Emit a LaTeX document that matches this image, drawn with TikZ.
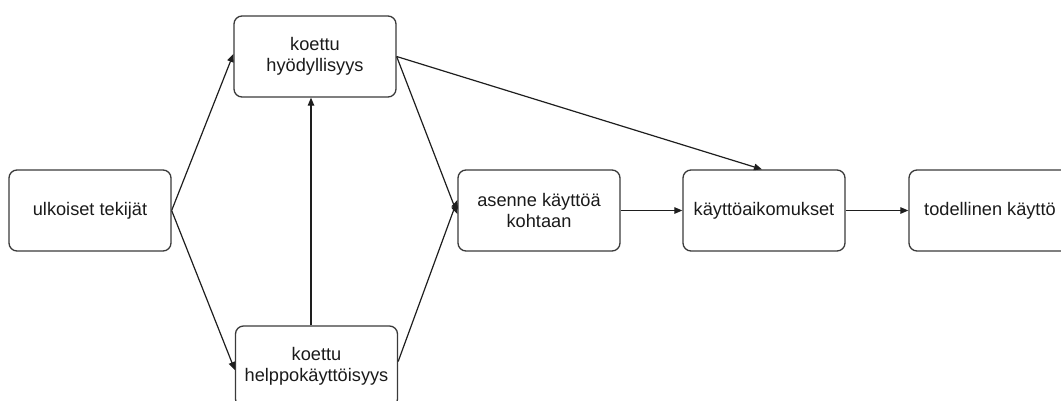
\documentclass[tikz,border=0pt]{standalone}
\usepackage{fontspec}
\setmainfont{Liberation Sans}
\usetikzlibrary{arrows.meta}
\definecolor{boxline}{HTML}{3A3A3A}
\definecolor{edgeline}{HTML}{1E1E1E}
\definecolor{txt}{HTML}{1A1A1A}
\tikzset{
  box/.style={draw=boxline, line width=1.3pt, rounded corners=8pt,
    minimum width=162pt, minimum height=81pt, align=center,
    text=txt, font=\fontsize{18.2}{20.5}\selectfont, inner sep=2pt},
  arr/.style={draw=edgeline, line width=1.2pt,
    -{Triangle[length=8pt,width=6.5pt]}}
}
\begin{document}
\begin{tikzpicture}[x=1pt,y=-1pt]
\useasboundingbox (0,0) rectangle (1061,400);
\clip (0,0) rectangle (1061,400);
% model boxes
\node[box] (ulk) at (90,210.5) {ulkoiset tekijät};
\node[box] (hyo) at (315,56.5) {koettu\\hyödyllisyys};
\node[box] (hel) at (316.5,366.5) {koettu\\helppokäyttöisyys};
\node[box] (ase) at (539,210.5) {asenne käyttöä\\kohtaan};
\node[box] (kay) at (764,210.5) {käyttöaikomukset};
\node[box] (tod) at (990,210.5) {todellinen käyttö};
% connections
\draw[arr] (ulk.east) -- ([yshift=2.5pt]hyo.west);
\draw[arr] (ulk.east) -- ([yshift=-3.5pt]hel.west);
\draw[arr] ([xshift=-5.5pt]hel.north) -- ([xshift=-4pt]hyo.south);
\draw[arr] (hyo.east) -- ([yshift=-3.5pt]ase.west);
\draw[arr] ([yshift=5pt]hel.east) -- ([yshift=10.5pt]ase.west);
\draw[arr] (hyo.east) -- ([xshift=-2pt]kay.north);
\draw[arr] (ase.east) -- (kay.west);
\draw[arr] (kay.east) -- (tod.west);
\end{tikzpicture}
\end{document}
